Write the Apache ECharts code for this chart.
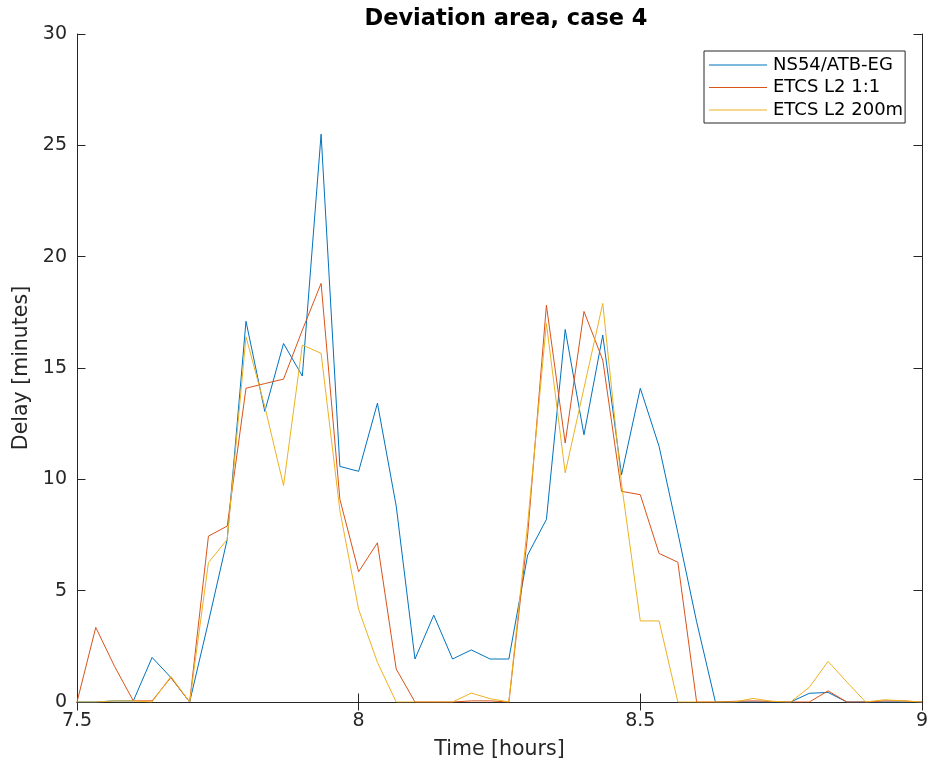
<!DOCTYPE html>
<html>
<head>
<meta charset="utf-8">
<script src="https://cdn.jsdelivr.net/npm/echarts@6/dist/echarts.min.js"></script>
<style>
  html, body { margin: 0; padding: 0; background: #ffffff; }
  #chart { width: 931px; height: 765px; }
</style>
</head>
<body>
<div id="chart"></div>
<script>
// Sample grid: every 2 minutes from 7.5 h to 9 h
const startHour = 7.5;
const stepHours = 2 / 60;

const seriesNames = ['NS54/ATB-EG', 'ETCS L2 1:1', 'ETCS L2 200m'];
const seriesColors = ['#0072BD', '#D95319', '#EDB120'];

const ns54 = [0, 0, 0.05, 0.05, 2.0, 1.1, 0, 3.6, 7.3, 17.1,
  13.05, 16.1, 14.64, 25.5, 10.58, 10.36, 13.42, 8.8, 1.93, 3.9,
  1.93, 2.34, 1.93, 1.93, 6.6, 8.2, 16.73, 12.0, 16.48, 10.2,
  14.09, 11.48, 7.6, 3.6, 0, 0, 0, 0, 0, 0.39,
  0.43, 0, 0, 0, 0, 0];

const etcs11 = [0, 3.35, 1.6, 0.05, 0.05, 1.1, 0, 7.45, 7.9, 14.09,
  14.3, 14.5, 16.7, 18.8, 9.1, 5.85, 7.15, 1.48, 0, 0,
  0, 0.05, 0.05, 0, 7.5, 17.82, 11.63, 17.54, 15.36, 9.46,
  9.31, 6.67, 6.28, 0, 0, 0.03, 0.05, 0.03, 0, 0,
  0.5, 0, 0, 0.05, 0.05, 0];

const etcs200 = [0, 0, 0.05, 0.05, 0, 1.15, 0, 6.26, 7.3, 16.4,
  13.27, 9.72, 16.03, 15.66, 8.6, 4.16, 1.78, 0, 0, 0,
  0, 0.4, 0.15, 0, 8.0, 17.0, 10.29, 14.1, 17.9, 9.8,
  3.64, 3.64, 0, 0, 0, 0, 0.16, 0.03, 0, 0.66,
  1.82, 0.9, 0, 0.1, 0.05, 0];

const xTicks = [7.5, 8, 8.5, 9];
const yTicks = [0, 5, 10, 15, 20, 25, 30];

const allValues = [ns54, etcs11, etcs200];
const times = ns54.map((_, i) => startHour + i * stepHours);

const FONT = '"DejaVu Sans", "Liberation Sans", sans-serif';
const AX = '#262626';

const chart = echarts.init(document.getElementById('chart'), null, { renderer: 'canvas' });

const baseAxisLine = { show: true, lineStyle: { color: AX, width: 1 } };
const tickStyle = { show: true, inside: true, length: 8.5, lineStyle: { color: AX, width: 1 } };

const option = {
  animation: false,
  backgroundColor: '#ffffff',
  title: {
    text: 'Deviation area, case 4',
    left: 501,
    top: 3,
    textAlign: 'center',
    textStyle: { fontFamily: FONT, fontSize: 22.5, fontWeight: 'bold', color: '#000000' }
  },
  legend: {
    orient: 'vertical',
    left: 704,
    top: 51,
    padding: [5, 2, 4, 5],
    itemGap: 4.5,
    itemWidth: 58,
    itemHeight: 1.2,
    icon: 'rect',
    borderColor: '#262626',
    borderWidth: 1,
    backgroundColor: '#ffffff',
    textStyle: { fontFamily: FONT, fontSize: 18, color: '#000000', lineHeight: 18, padding: [0, 0, 0, 1] },
    data: seriesNames
  },
  grid: { left: 77, right: 7, top: 34, bottom: 63, containLabel: false },
  xAxis: [{
    type: 'value',
    min: xTicks[0],
    max: xTicks[xTicks.length - 1],
    interval: 0.5,
    name: 'Time [hours]',
    nameLocation: 'middle',
    nameGap: 37,
    nameTextStyle: { fontFamily: FONT, fontSize: 20.5, color: AX },
    axisLine: baseAxisLine,
    axisTick: tickStyle,
    splitLine: { show: false },
    axisLabel: { fontFamily: FONT, fontSize: 19, color: AX, margin: 10,
      formatter: v => String(Math.round(v * 10) / 10) }
  }, {
    type: 'value',
    position: 'top',
    min: xTicks[0],
    max: xTicks[xTicks.length - 1],
    interval: 0.5,
    axisLine: baseAxisLine,
    axisTick: tickStyle,
    axisLabel: { show: false },
    splitLine: { show: false }
  }],
  yAxis: [{
    type: 'value',
    min: yTicks[0],
    max: yTicks[yTicks.length - 1],
    interval: 5,
    name: 'Delay [minutes]',
    nameLocation: 'middle',
    nameGap: 43,
    nameTextStyle: { fontFamily: FONT, fontSize: 20.5, color: AX },
    axisLine: baseAxisLine,
    axisTick: tickStyle,
    splitLine: { show: false },
    axisLabel: { fontFamily: FONT, fontSize: 19, color: AX, margin: 10 }
  }, {
    type: 'value',
    position: 'right',
    min: yTicks[0],
    max: yTicks[yTicks.length - 1],
    interval: 5,
    axisLine: baseAxisLine,
    axisTick: tickStyle,
    axisLabel: { show: false },
    splitLine: { show: false }
  }],
  series: seriesNames.map((name, k) => ({
    name: name,
    type: 'line',
    xAxisIndex: 0,
    yAxisIndex: 0,
    symbol: 'none',
    showSymbol: false,
    smooth: false,
    color: seriesColors[k],
    lineStyle: { color: seriesColors[k], width: 1 },
    data: allValues[k].map((v, i) => [times[i], v])
  }))
};

chart.setOption(option);
</script>
</body>
</html>
